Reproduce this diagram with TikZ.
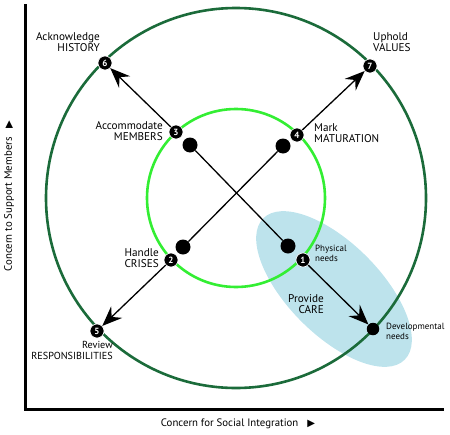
\documentclass[tikz,border=0pt]{standalone}
\usepackage{fontspec}
\setmainfont{PT Sans}
\newfontfamily\symfont{DejaVu Sans}
\usetikzlibrary{arrows.meta,positioning}
\definecolor{darkring}{HTML}{1B6B3A}
\definecolor{lightring}{HTML}{33EE33}
\definecolor{careblue}{HTML}{BDE3EC}
\tikzset{
  stage/.style={circle,fill=black,draw=white,line width=0.6pt,inner sep=0pt,
    minimum size=14pt,text=white,font=\bfseries\fontsize{9}{9}\selectfont},
  hub/.style={circle,fill=black,inner sep=0pt,minimum size=#1},
  hub/.default=15pt,
  lbl/.style={inner sep=0pt,text depth=0pt,font=\fontsize{11.2}{11.5}\selectfont},
  note/.style={inner sep=0pt,text depth=0pt,font=\fontsize{9}{10}\selectfont},
  move/.style={-{Stealth[length=20pt,width=16pt,inset=7pt]},line width=1.3pt},
}
\begin{document}
\begin{tikzpicture}[x=1pt,y=-1pt]
  \useasboundingbox (0,0) rectangle (450,434);
  \coordinate (c) at (236,198);
  \coordinate (care) at (334,289);
  \fill[careblue,rotate around={-45:(care)}] (care) ellipse [x radius=100pt,y radius=46pt];
  \draw[darkring,line width=2.6pt] (c) circle [radius=190pt];
  \draw[lightring,line width=2.6pt] (c) circle [radius=89pt];

  \draw[line width=3pt] (25,4) coordinate (ytop) -- (25,409) coordinate (o) -- (444,409) coordinate (xend);
  \node[font=\fontsize{10.8}{10}\selectfont] (xlabel) at (238,424)
    {Concern for Social Integration\hspace{9pt}{\symfont\fontsize{10}{9}\selectfont ▶}};
  \node[font=\fontsize{10.8}{10}\selectfont,rotate=90] (ylabel) at (9,196)
    {Concern to Support Members\hspace{9pt}{\symfont\fontsize{10}{9}\selectfont ▶}};

  \node[hub] (d3) at (190,145) {};
  \node[hub] (d4) at (283,146) {};
  \node[hub] (d2) at (183,247) {};
  \node[hub] (d1) at (288,246) {};
  \node[hub=12.5pt] (dev) at (373,329) {};

  \node[stage] (n1) at (303,260) {1};
  \node[stage] (n2) at (171,260) {2};
  \node[stage] (n3) at (176,132) {3};
  \node[stage] (n4) at (297,135) {4};
  \node[stage] (n5) at (97,331) {5};
  \node[stage] (n6) at (105,63) {6};
  \node[stage] (n7) at (370,66) {7};

  \node[lbl,align=right,anchor=south east] (t6) at ([shift={(-5,-11)}]n6.center) {Acknowledge\\HISTORY};
  \node[lbl,align=left,anchor=south west] (t7) at ([shift={(3,-14)}]n7.center) {Uphold\\VALUES};
  \node[lbl,align=right,anchor=south east] (t3) at ([shift={(-13,9)}]n3.center) {Accommodate\\MEMBERS};
  \node[lbl,align=left,anchor=south west] (t4) at ([shift={(17,8)}]n4.center) {Mark\\MATURATION};
  \node[lbl,align=right,anchor=south east] (t2) at ([shift={(-12,8)}]n2.center) {Handle\\CRISES};
  \node[lbl,align=right,anchor=south east,font=\fontsize{10.2}{11.5}\selectfont] (t5) at ([shift={(16,29)}]n5.center) {Review\\RESPONSIBILITIES};
  \node[note,align=left,anchor=south west] (t1) at ([shift={(12,2)}]n1.center) {Physical\\needs};
  \node[lbl,align=right,anchor=south east] (tc) at ([shift={(-10,25)}]care) {Provide\\CARE};
  \node[note,align=left,anchor=south west] (tdev) at ([shift={(13,11)}]dev.center) {Developmental\\needs};

  \draw[line width=1.3pt] (d3) -- (d1);
  \draw[line width=1.3pt] (d4) -- (d2);
  \draw[move] (n3) -- (n6);
  \draw[move] (n4) -- (n7);
  \draw[move] (n2) -- (n5);
  \draw[move] (n1) -- (dev);
\end{tikzpicture}
\end{document}
